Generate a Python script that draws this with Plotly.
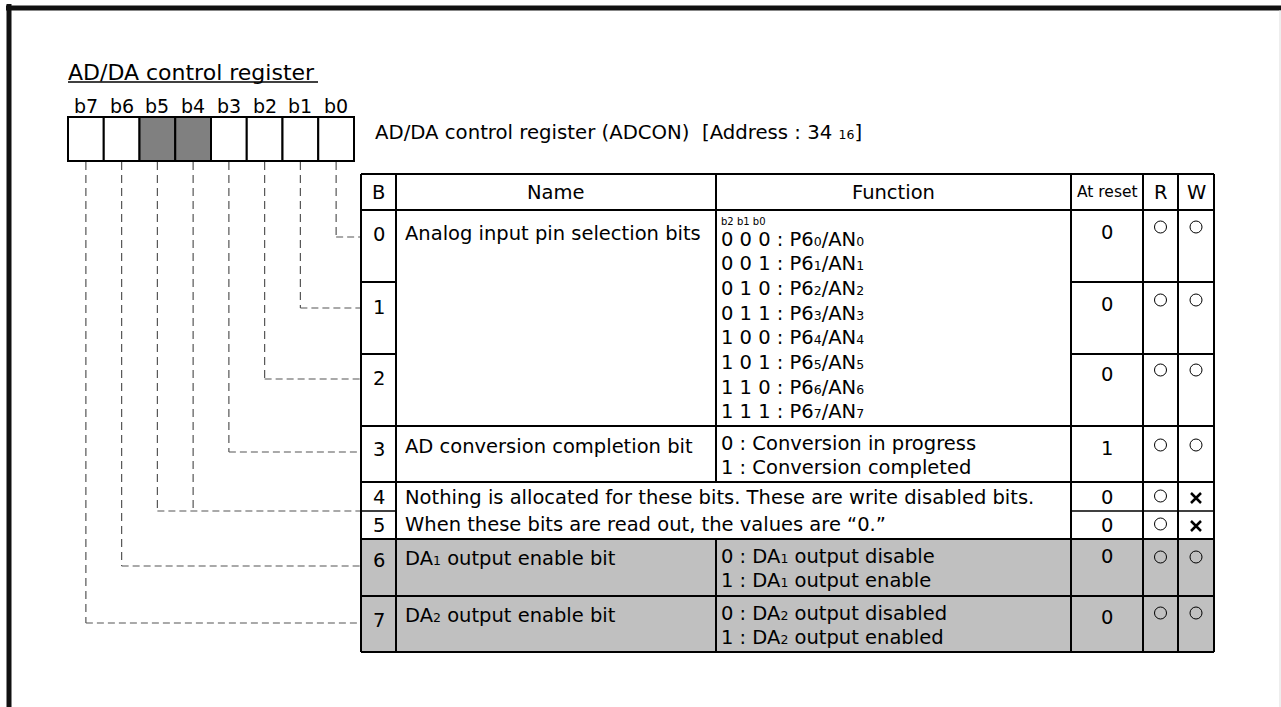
import plotly.graph_objects as go

# ---------------- data ----------------
SUB = "<span style='font-size:12.5px'>%s</span>"
title = "AD/DA control register"
register_caption = "AD/DA control register (ADCON)\u00a0 [Address : 34 " + SUB % "16" + "]"
bit_labels = ["b7", "b6", "b5", "b4", "b3", "b2", "b1", "b0"]
unused_bits = ["b5", "b4"]
header = ["B", "Name", "Function", "At reset", "R", "W"]
bit_numbers = ["0", "1", "2", "3", "4", "5", "6", "7"]
name_ad_sel = "Analog input pin selection bits"
name_ad_conv = "AD conversion completion bit"
name_da1 = "DA" + SUB % "1" + " output enable bit"
name_da2 = "DA" + SUB % "2" + " output enable bit"
sel_header = "b2 b1 b0"
sel_codes = ["0 0 0", "0 0 1", "0 1 0", "0 1 1", "1 0 0", "1 0 1", "1 1 0", "1 1 1"]
sel_pins = ["P6" + SUB % str(i) + "/AN" + SUB % str(i) for i in range(8)]
conv_functions = ["0 : Conversion in progress", "1 : Conversion completed"]
da1_functions = ["0 : DA" + SUB % "1" + " output disable", "1 : DA" + SUB % "1" + " output enable"]
da2_functions = ["0 : DA" + SUB % "2" + " output disabled", "1 : DA" + SUB % "2" + " output enabled"]
nothing_text = ["Nothing is allocated for these bits. These are write disabled bits.",
                "When these bits are read out, the values are \u201c0.\u201d"]
reset_values = ["0", "0", "0", "1", "0", "0", "0", "0"]
read_access = ["o", "o", "o", "o", "o", "o", "o", "o"]
write_access = ["o", "o", "o", "o", "x", "x", "o", "o"]

# ---------------- layout constants ----------------
FONT = "DejaVu Sans"
FS = 19.5
W, H = 1281, 707
reg_x0, reg_w, reg_y0, reg_y1 = 68, 35.75, 117, 161
col = [361, 396, 716, 1071, 1143, 1178, 1214]
head_top, head_bot = 174, 210
row_top = [210, 282, 354, 426, 482, 511, 539, 596]
row_bot = [282, 354, 426, 482, 511, 539, 596, 652]
link_y = [237, 308, 379, 452, 511, 511, 566, 623]
num_y = [234, 307, 378, 449, 497, 525, 560, 620]
reset_y = [232, 304, 374, 448, 497, 525, 556, 617]
mark_y = [227, 300, 370, 445, 496, 524, 557, 613]
GRAY_ROW = "#c0c0c0"
GRAY_BIT = "#808080"
LW = 2

fig = go.Figure()
shapes = []


def line(x0, y0, x1, y1, width=LW, color="black", dash=None):
    d = dict(type="line", x0=x0, y0=y0, x1=x1, y1=y1, xref="x", yref="y",
             line=dict(color=color, width=width))
    if dash:
        d["line"]["dash"] = dash
    shapes.append(d)


def rect(x0, y0, x1, y1, fill, width=LW, lcolor="black"):
    shapes.append(dict(type="rect", x0=x0, y0=y0, x1=x1, y1=y1, xref="x", yref="y",
                       fillcolor=fill, line=dict(color=lcolor, width=width), layer="below"))


def txt(x, y, s, size=FS, anchor="left"):
    fig.add_annotation(x=x, y=y, text=s, showarrow=False, xanchor=anchor, yanchor="middle",
                       xref="x", yref="y", font=dict(family=FONT, size=size, color="black"),
                       borderpad=0)


# outer frame
line(9, 4, 9, H, width=5, color="#111111")
line(6, 8, W, 8, width=5, color="#111111")
line(1280, 10, 1280, H, width=1, color="#dddddd")

# title
txt(67, 72, title, size=22)
line(68, 82, 318, 82, width=1.5)

# register boxes
for i, b in enumerate(bit_labels):
    x0 = reg_x0 + i * reg_w
    rect(x0, reg_y0, x0 + reg_w, reg_y1, GRAY_BIT if b in unused_bits else "white")
    txt(x0 + reg_w / 2, 106, b, size=19, anchor="center")
txt(374, 132, register_caption, size=19.7)

# dashed link lines
for b in range(8):
    i = 7 - b
    cx = reg_x0 + (i + 0.5) * reg_w
    line(cx, reg_y1 + 1, cx, link_y[b], width=1.2, color="#555555", dash="8px,5px")
drawn_h = set()
for b in range(8):
    ly = link_y[b]
    if ly in drawn_h:
        continue
    drawn_h.add(ly)
    xs = [reg_x0 + (7 - k + 0.5) * reg_w for k in range(8) if link_y[k] == ly]
    line(min(xs), ly, col[0], ly, width=1.2, color="#555555", dash="7px,4px")

# table fills
rect(col[0], row_top[6], col[-1], row_bot[7], GRAY_ROW, width=0)

# table grid
line(col[0], head_top, col[-1], head_top)
line(col[0], row_bot[7], col[-1], row_bot[7])
for k, x in enumerate(col):
    if k == 2:
        line(x, head_top, x, row_top[4])
        line(x, row_bot[5], x, row_bot[7])
    else:
        line(x, head_top, x, row_bot[7])
for y in [head_bot, row_bot[2], row_bot[3], row_bot[5], row_bot[6]]:
    line(col[0], y, col[-1], y)
for y, w in [(row_bot[0], LW), (row_bot[1], LW), (row_bot[4], 1.5)]:
    line(col[0], y, col[1], y, width=w)
    line(col[3], y, col[-1], y, width=w)

# header
hx = [(col[k] + col[k + 1]) / 2 for k in range(6)]
for k, h in enumerate(header):
    txt(hx[k], 192, h, size=15.5 if h == "At reset" else FS, anchor="center")

# bit numbers and reset values
for b in range(8):
    txt(hx[0], num_y[b], bit_numbers[b], anchor="center")
    txt(hx[3], reset_y[b], reset_values[b], anchor="center")

# names
NX = 404
FX = 720
txt(NX, 233, name_ad_sel)
txt(NX, 446, name_ad_conv)
txt(NX, 558, name_da1)
txt(NX, 615, name_da2)
txt(NX, 497, nothing_text[0])
txt(NX, 524, nothing_text[1])

# function column
txt(FX, 221, sel_header, size=10)
for i in range(8):
    txt(FX, 239 + i * 24.7, sel_codes[i] + " : " + sel_pins[i])
for i in range(2):
    txt(FX, 443 + i * 24, conv_functions[i])
    txt(FX, 556 + i * 24, da1_functions[i])
    txt(FX, 613 + i * 24, da2_functions[i])

# R / W marks
cx_o, cy_o, cx_x, cy_x = [], [], [], []
for b in range(8):
    for xc, v in [(hx[4], read_access[b]), (hx[5], write_access[b])]:
        if v == "o":
            cx_o.append(xc)
            cy_o.append(mark_y[b])
        else:
            cx_x.append(xc)
            cy_x.append(mark_y[b] + 2)
fig.add_trace(go.Scatter(x=cx_o, y=cy_o, mode="markers", hoverinfo="skip",
                         marker=dict(symbol="circle-open", size=12, color="black",
                                     line=dict(width=1, color="black"))))
fig.add_trace(go.Scatter(x=cx_x, y=cy_x, mode="markers", hoverinfo="skip",
                         marker=dict(symbol="x-thin-open", size=10, color="black",
                                     line=dict(width=2.5, color="black"))))

fig.update_layout(
    width=W, height=H, margin=dict(l=0, r=0, t=0, b=0),
    paper_bgcolor="white", plot_bgcolor="white", showlegend=False,
    xaxis=dict(range=[0, W], visible=False, fixedrange=True),
    yaxis=dict(range=[H, 0], visible=False, fixedrange=True),
    shapes=shapes,
)

fig.write_html("out.html", config={"displayModeBar": False, "staticPlot": True},
               post_script="document.body.style.margin='0';document.body.style.overflow='hidden';")
